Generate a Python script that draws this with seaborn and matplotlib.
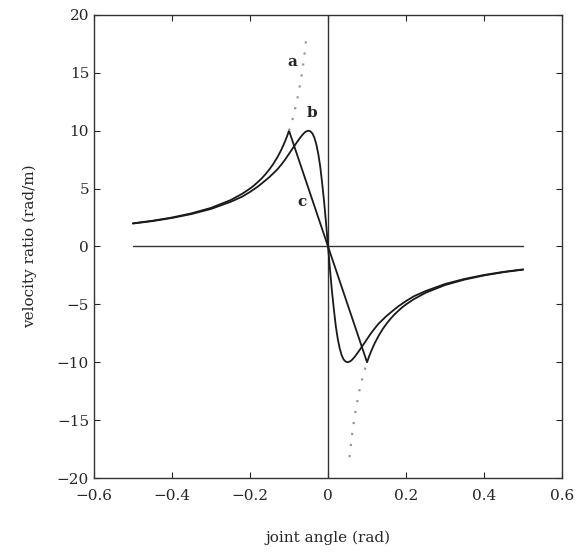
import numpy as np
import pandas as pd
import matplotlib
matplotlib.use("Agg")
import matplotlib.pyplot as plt
import seaborn as sns

# curve c: 1/x outside +-0.1, straight line through the origin inside
c_x = [-0.5, -0.45, -0.4, -0.35, -0.3, -0.25, -0.22, -0.2, -0.19, -0.18, -0.17, -0.16, -0.15,
       -0.14, -0.13, -0.12, -0.115, -0.11, -0.105, -0.1,
       0.0,
       0.1, 0.105, 0.11, 0.115, 0.12, 0.13, 0.14, 0.15, 0.16, 0.17, 0.18, 0.19, 0.2,
       0.22, 0.25, 0.3, 0.35, 0.4, 0.45, 0.5]
c_y = [2.0, 2.22, 2.5, 2.86, 3.33, 4.0, 4.55, 5.0, 5.26, 5.56, 5.88, 6.25, 6.67,
       7.14, 7.69, 8.33, 8.7, 9.09, 9.52, 10.0,
       0.0,
       -10.0, -9.52, -9.09, -8.7, -8.33, -7.69, -7.14, -6.67, -6.25, -5.88, -5.56, -5.26, -5.0,
       -4.55, -4.0, -3.33, -2.86, -2.5, -2.22, -2.0]

# curve b: smooth, peak near -0.05
b_x = [-0.5, -0.45, -0.4, -0.35, -0.3, -0.25, -0.22, -0.2, -0.18, -0.17, -0.15, -0.13, -0.12,
       -0.11, -0.1, -0.09, -0.08, -0.07, -0.065, -0.06, -0.055, -0.05, -0.045, -0.04, -0.035,
       -0.03, -0.025, -0.02, -0.015, -0.01, -0.005, 0.0,
       0.005, 0.01, 0.015, 0.02, 0.025, 0.03, 0.035, 0.04, 0.045, 0.05, 0.055, 0.06,
       0.065, 0.07, 0.08, 0.09, 0.1, 0.11, 0.12, 0.13, 0.15, 0.17, 0.18, 0.2, 0.22, 0.25,
       0.3, 0.35, 0.4, 0.45, 0.5]
b_y = [1.98, 2.19, 2.46, 2.8, 3.24, 3.85, 4.3, 4.71, 5.17, 5.44, 6.0, 6.65, 7.06,
       7.5, 8.0, 8.5, 8.99, 9.46, 9.66, 9.84, 9.95, 10.0, 9.94, 9.76, 9.4,
       8.82, 8.0, 6.9, 5.45, 3.85, 1.98, 0.0,
       -1.98, -3.85, -5.45, -6.9, -8.0, -8.82, -9.4, -9.76, -9.94, -10.0, -9.95, -9.84,
       -9.66, -9.46, -8.99, -8.5, -8.0, -7.5, -7.06, -6.65, -6.0, -5.44, -5.17, -4.71, -4.3, -3.85,
       -3.24, -2.8, -2.46, -2.19, -1.98]

# curve a: dotted 1/x continuation near the origin
a_left_x = [-0.1, -0.09, -0.08, -0.07, -0.065, -0.06, -0.055]
a_left_y = [10.0, 11.1, 12.5, 14.3, 15.4, 16.7, 18.2]
a_right_x = [0.055, 0.06, 0.065, 0.07, 0.08, 0.09, 0.1]
a_right_y = [-18.2, -16.7, -15.4, -14.3, -12.5, -11.1, -10.0]

labels = ["a", "b", "c"]
label_x = [-0.092, -0.041, -0.067]
label_y = [15.9, 11.5, 3.8]

sns.set_style("ticks")
plt.rcParams["font.family"] = ["DejaVu Serif"]

fig = plt.figure(figsize=(5.76, 5.52), dpi=100)
ax = fig.add_axes([0.163, 0.134, 0.813, 0.839])

ax.axhline(0, xmin=1 / 12, xmax=11 / 12, color="#333333", lw=1.0)
ax.axvline(0, color="#333333", lw=1.0)

ln = "#1a1a1a"
sns.lineplot(x=c_x, y=c_y, ax=ax, sort=False, color=ln, lw=1.3)
sns.lineplot(x=b_x, y=b_y, ax=ax, sort=False, color=ln, lw=1.3)
sns.lineplot(x=a_left_x, y=a_left_y, ax=ax, sort=False, color="#999999", lw=1.6,
             linestyle=(0, (1, 4)))
sns.lineplot(x=a_right_x, y=a_right_y, ax=ax, sort=False, color="#999999", lw=1.6,
             linestyle=(0, (1, 4)))

for t, x, y in zip(labels, label_x, label_y):
    ax.text(x, y, t, fontsize=11, fontweight="bold", ha="center", va="center")

ax.set_xlim(-0.6, 0.6)
ax.set_ylim(-20, 20)
ax.set_xticks([-0.6, -0.4, -0.2, 0, 0.2, 0.4, 0.6])
ax.set_xticklabels(["\u22120.6", "\u22120.4", "\u22120.2", "0", "0.2", "0.4", "0.6"])
ax.set_yticks([-20, -15, -10, -5, 0, 5, 10, 15, 20])
ax.set_yticklabels(["\u221220", "\u221215", "\u221210", "\u22125", "0", "5", "10", "15", "20"])
ax.tick_params(direction="in", top=True, right=True, labelsize=11, length=4, width=0.8)
ax.tick_params(axis="x", pad=8)
for s in ax.spines.values():
    s.set_linewidth(1.0)
    s.set_color("#333333")

ax.set_xlabel("joint angle (rad)", fontsize=11, labelpad=20)
ax.set_ylabel("velocity ratio (rad/m)", fontsize=11, labelpad=14)

fig.savefig("out.png", dpi=100)
